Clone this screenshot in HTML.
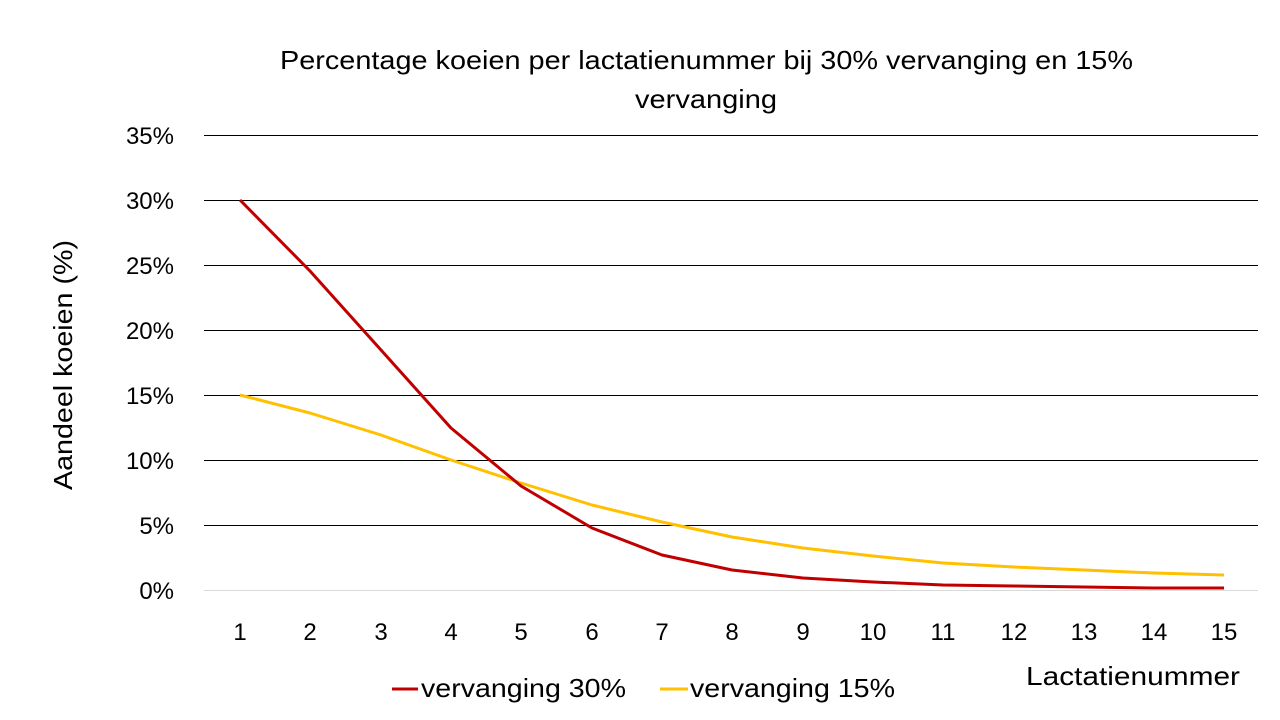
<!DOCTYPE html>
<html><head><meta charset="utf-8"><style>
body{margin:0;background:#fff;}
svg{display:block;font-family:"Liberation Sans",Calibri,sans-serif;}
</style></head><body>
<svg width="1280" height="720" viewBox="0 0 1280 720">
<rect width="1280" height="720" fill="#fff"/>
<text x="280" y="69" font-size="26" textLength="853" lengthAdjust="spacingAndGlyphs" fill="#000">Percentage koeien per lactatienummer bij 30% vervanging en 15%</text>
<text x="635" y="108" font-size="26" textLength="142" lengthAdjust="spacingAndGlyphs" fill="#000">vervanging</text>
<g stroke="#000" stroke-width="1">
<line x1="204" x2="1258" y1="135.5" y2="135.5"/>
<line x1="204" x2="1258" y1="200.5" y2="200.5"/>
<line x1="204" x2="1258" y1="265.5" y2="265.5"/>
<line x1="204" x2="1258" y1="330.5" y2="330.5"/>
<line x1="204" x2="1258" y1="395.5" y2="395.5"/>
<line x1="204" x2="1258" y1="460.5" y2="460.5"/>
<line x1="204" x2="1258" y1="525.5" y2="525.5"/>
</g>
<line x1="204" x2="1258" y1="590.5" y2="590.5" stroke="#d9d9d9"/>
<g font-size="24" text-anchor="end" fill="#000">
<text x="174" y="144">35%</text><text x="174" y="209">30%</text><text x="174" y="274">25%</text>
<text x="174" y="339">20%</text><text x="174" y="404">15%</text><text x="174" y="469">10%</text>
<text x="174" y="534">5%</text><text x="174" y="599">0%</text>
</g>
<g font-size="24" text-anchor="middle" fill="#000">
<text x="240" y="640">1</text><text x="310" y="640">2</text><text x="381" y="640">3</text><text x="451" y="640">4</text><text x="521" y="640">5</text><text x="592" y="640">6</text><text x="662" y="640">7</text><text x="732" y="640">8</text><text x="803" y="640">9</text><text x="873" y="640">10</text><text x="943" y="640">11</text><text x="1014" y="640">12</text><text x="1084" y="640">13</text><text x="1154" y="640">14</text><text x="1224" y="640">15</text>
</g>
<text x="1026" y="685" font-size="26" textLength="214" lengthAdjust="spacingAndGlyphs">Lactatienummer</text>
<text transform="translate(72,490) rotate(-90)" font-size="26" textLength="250" lengthAdjust="spacingAndGlyphs">Aandeel koeien (%)</text>
<polyline fill="none" stroke="#ffc000" stroke-width="3" stroke-linejoin="round" points="240,395 310,413 381,435 451,460 521,483 592,505 662,522 732,537 803,548 873,556 943,563 1014,567 1084,570 1154,573 1224,575"/>
<polyline fill="none" stroke="#c00000" stroke-width="3" stroke-linejoin="round" points="240,200 310,271 381,350 451,428 521,486 592,528 662,555 732,570 803,578 873,582 943,585 1014,586 1084,587 1154,588 1224,588"/>
<line x1="392" x2="418" y1="689" y2="689" stroke="#c00000" stroke-width="3"/>
<text x="421" y="697" font-size="26" textLength="205" lengthAdjust="spacingAndGlyphs">vervanging 30%</text>
<line x1="660" x2="688" y1="689" y2="689" stroke="#ffc000" stroke-width="3"/>
<text x="690" y="697" font-size="26" textLength="205" lengthAdjust="spacingAndGlyphs">vervanging 15%</text>
</svg>
</body></html>
